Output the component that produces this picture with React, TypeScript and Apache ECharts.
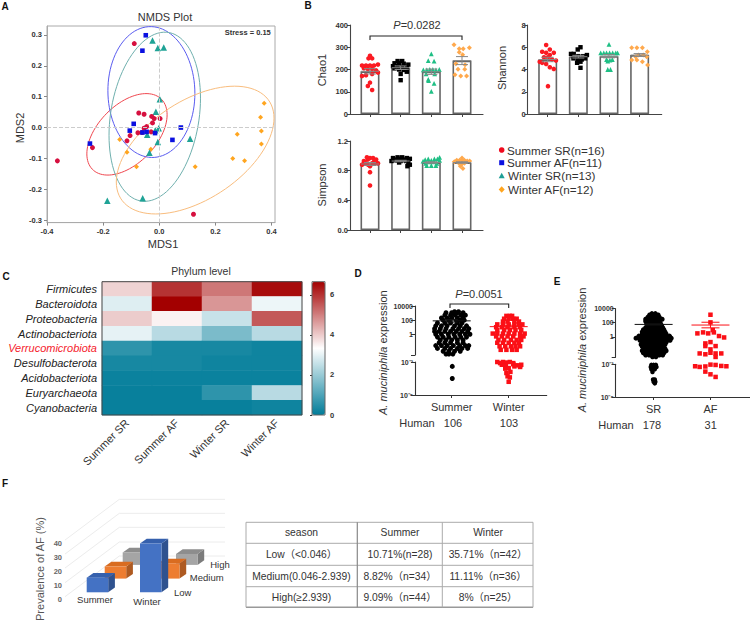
import React, { useEffect, useRef } from "react";
import * as echarts from "echarts";

const FONT = '"Liberation Sans", Arial, "Noto Sans CJK SC", sans-serif';

// ---- Panel A: NMDS points [MDS1, MDS2]
const nmdsSummerSR = [[-0.089,0.272],[-0.238,-0.065],[-0.363,-0.108],[0.122,-0.281],[-0.073,0.047],[-0.054,0.043],[-0.027,0.036],[-0.018,0.029],[0.003,0.029],[-0.024,0.015],[-0.045,0.003],[-0.054,-0.002],[-0.076,-0.017],[-0.061,-0.016],[-0.029,-0.014],[-0.104,-0.026],[-0.115,-0.043]];
const nmdsSummerAF = [[-0.048,0.299],[-0.06,0.249],[-0.247,-0.052],[-0.091,0.012],[-0.105,-0.01],[0.077,0],[0.047,-0.04],[-0.015,-0.018],[-0.06,-0.016],[-0.045,-0.014]];
const nmdsWinterSR = [[-0.024,0.282],[-0.005,0.258],[0.016,0.259],[0.002,0.092],[-0.012,0.051],[-0.002,-0.002],[-0.014,-0.009],[-0.043,-0.023],[-0.005,-0.047],[-0.035,-0.082],[0.11,-0.036],[-0.059,-0.229],[-0.185,-0.237]];
const nmdsWinterAF = [[0.374,0.079],[0.361,0.033],[0.364,-0.011],[0.364,-0.053],[0.278,-0.022],[0.262,-0.1],[0.304,-0.108],[0.128,-0.127],[-0.081,-0.127],[-0.115,-0.08],[-0.141,-0.039],[-0.03,-0.07]];
// ellipses: [centre x, centre y, half-width x, half-height y, tilt correlation]
const nmdsEllipses = [[-0.115,-0.022,0.143,0.132,0.48],[-0.028,0.115,0.155,0.212,-0.02],[-0.016,0.035,0.163,0.274,0.22],[0.128,-0.073,0.281,0.207,0.5]];
const nmdsEllipseColors = ["#f0474f","#5a5cf0","#6fb0ae","#f9bd7e"];
const nmdsTicksX = [-0.4,-0.2,0,0.2,0.4];
const nmdsTicksY = [-0.3,-0.2,-0.1,0,0.1,0.2,0.3];

// ---- Panel B: [jitter, value]
const chaoMeans = [192,208,190,240];
const chaoSems = [12,8,12,18];
const shannonMeans = [4.9,5.15,5.2,5.3];
const shannonSems = [0.2,0.12,0.15,0.13];
const simpsonMeans = [0.89,0.93,0.91,0.91];
const simpsonSems = [0.02,0.01,0.01,0.01];
const chaoRed = [[0,262],[-0.05,250],[0.07,250],[-0.26,218],[-0.13,218],[0,218],[0.13,218],[0.26,222],[-0.2,206],[-0.07,202],[0.07,202],[0.2,196],[-0.26,171],[-0.13,174],[0.07,180],[0.26,186],[0,141],[-0.07,126],[0.07,108]];
const chaoBlack = [[-0.1,238],[0.05,238],[-0.2,228],[-0.05,228],[0.1,226],[0.25,222],[-0.25,215],[-0.1,215],[0.05,212],[0.2,212],[-0.2,205],[-0.05,200],[0.1,198],[0.2,190],[0,180],[0,152]];
const chaoGreen = [[0,270],[-0.1,240],[0.09,238],[-0.26,198],[-0.15,198],[-0.05,200],[0.05,200],[0.15,198],[0.26,200],[-0.17,180],[0.11,180],[-0.1,156],[0.09,138],[-0.09,150],[0,102]];
const chaoOrange = [[-0.26,311],[-0.09,293],[0.04,293],[0.24,298],[-0.09,277],[0.02,266],[-0.2,226],[0.1,221],[-0.13,201],[0.09,201],[-0.23,176],[-0.04,171],[0.15,171]];
const shannonRed = [[-0.05,6.2],[-0.18,5.6],[0.07,5.8],[-0.05,5.5],[0.2,5.5],[0.07,5.3],[-0.12,5.1],[0.01,5.1],[0.14,4.9],[0.27,4.8],[-0.26,4.7],[-0.18,4.6],[-0.05,4.5],[0.07,4.2],[0.2,4.05],[0.01,2.5]];
const shannonBlack = [[0.07,6],[-0.02,5.8],[-0.24,5.4],[-0.15,5.4],[0.16,5.2],[0.28,5.3],[-0.16,5],[-0.02,4.9],[0.11,4.9],[0.22,5],[-0.04,4.6],[0.07,4.7],[0.07,4.15],[0,5.2]];
const shannonGreen = [[0,6.25],[-0.27,5.5],[-0.17,5.5],[-0.08,5.5],[0.02,5.5],[0.12,5.5],[0.22,5.5],[0.28,5.5],[-0.08,4.9],[0.03,4.85],[-0.04,4.75],[0.11,4.9],[-0.04,4],[0.05,4]];
const shannonOrange = [[-0.26,5.95],[-0.09,5.95],[0.09,5.95],[0.25,5.6],[-0.04,5.3],[0.12,5.3],[-0.13,5.15],[-0.26,4.85],[-0.09,4.85],[0.23,5.15],[0.09,4.7],[0.26,4.4]];
const simpsonRed = [[0,0.6],[0,0.78],[-0.26,0.88],[-0.2,0.9],[-0.13,0.9],[-0.06,0.88],[0,0.86],[0.07,0.9],[0.13,0.92],[0.2,0.91],[0.26,0.9],[-0.2,0.93],[-0.07,0.95],[0,0.97],[0.1,0.97],[0.2,0.95],[-0.1,0.98]];
const simpsonBlack = [[-0.3,0.93],[-0.2,0.95],[-0.1,0.94],[0,0.96],[0.1,0.95],[0.2,0.97],[0.3,0.96],[-0.25,0.97],[-0.1,0.98],[0.05,0.98],[0.18,0.93],[0.25,0.9],[0.22,0.86],[0.3,0.88],[0,0.93],[-0.05,0.91]];
const simpsonGreen = [[-0.27,0.93],[-0.18,0.9],[-0.09,0.92],[0,0.94],[0.09,0.92],[0.18,0.9],[0.27,0.94],[-0.2,0.95],[-0.1,0.96],[0.1,0.96],[0.2,0.96],[0.27,0.98],[-0.15,0.87],[0,0.87],[0.15,0.87]];
const simpsonOrange = [[-0.25,0.92],[-0.17,0.94],[-0.08,0.94],[0,0.94],[0.08,0.94],[0.17,0.93],[0.25,0.93],[0,0.97],[-0.1,0.9],[0,0.89],[0.08,0.9],[-0.05,0.86],[0.03,0.83]];
const legendNames = ["Summer SR(n=16)","Summer AF(n=11)","Winter SR(n=13)","Winter AF(n=12)"];

// ---- Panel C
const phyla = ["Firmicutes","Bacteroidota","Proteobacteria","Actinobacteriota","Verrucomicrobiota","Desulfobacterota","Acidobacteriota","Euryarchaeota","Cyanobacteria"];
const heatGroups = ["Summer SR","Summer AF","Winter SR","Winter AF"];
const heatValues = [
  [3.9,6.0,5.1,6.5],
  [2.9,6.66,4.7,3.1],
  [4.0,3.5,2.6,5.5],
  [3.0,2.4,1.6,2.4],
  [0.6,0.3,0.3,0.2],
  [0.3,0.3,0.2,0.2],
  [0.15,0.15,0.15,0.15],
  [0.1,0.1,0.6,2.4],
  [0.1,0.1,0.1,0.2],
];
const heatTicks = [0,2,4,6];

// ---- Panels D and E: rows of [log10 value, jitters]
const dSummerRows = [[3.2,[0.05,0.12]],[3.05,[-0.1,0,0.1,0.2]],[2.7,[-0.12,-0.02,0.06,0.16,0.24]],[2.3,[-0.18,-0.08,0,0.1,0.2]],[2.0,[-0.15,-0.05,0.08,0.15,0.22]],[1.6,[-0.25,-0.12,-0.02,0.1,0.18]],[1.2,[-0.28,-0.18,-0.08,0.05,0.15,0.26]],[0.8,[-0.3,-0.2,-0.1,0.02,0.12,0.22,0.3]],[0.4,[-0.3,-0.22,-0.12,-0.02,0.08,0.18,0.28]],[0,[-0.28,-0.18,-0.06,0.04,0.14,0.24,0.32]],[-0.4,[-0.25,-0.15,-0.05,0.06,0.16,0.26]],[-0.8,[-0.2,-0.1,0,0.1,0.2]],[-1.2,[-0.22,-0.12,-0.02,0.1,0.2]],[-1.6,[-0.28,-0.18,-0.08,0.03,0.14,0.24,0.3]],[-2.0,[-0.25,-0.12,-0.02,0.1,0.18,0.28]],[-2.4,[-0.15,-0.05,0.05,0.15]],[-2.8,[-0.1,-0.05,0.02]]];
const dSummerLow = [[0.01,-3.4],[0.01,-4.5]];
const dWinterRows = [[2.6,[-0.04,0.02,0.06]],[2.2,[-0.08,0,0.08,0.14]],[1.8,[-0.1,-0.02,0.1,0.18]],[1.4,[-0.2,-0.1,0,0.1,0.18,0.24]],[1.0,[-0.22,-0.12,-0.02,0.1,0.2]],[0.6,[-0.2,-0.08,0.02,0.12,0.22]],[0.1,[-0.28,-0.2,-0.1,0,0.1,0.2,0.28]],[-0.3,[-0.22,-0.12,-0.02,0.08,0.2,0.26]],[-0.8,[-0.18,-0.08,0.04,0.14,0.22]],[-1.2,[-0.2,-0.1,0,0.1,0.18]],[-1.7,[-0.16,-0.06,0.04,0.12,0.2]],[-2.2,[-0.14,-0.04,0.06,0.14]]];
const dWinterLow = [[-0.2,-3],[-0.15,-3.1],[-0.1,-3],[-0.05,-3.05],[0.02,-3],[0.08,-3.1],[-0.12,-3.25],[-0.05,-3.3],[0.08,-3.2],[0.14,-3.3],[0.2,-3.35],[0.22,-3.25],[-0.06,-3.6],[0,-3.55],[0.1,-3.4],[0.2,-3.45],[-0.04,-4],[0.03,-3.9],[-0.02,-4.3],[0.02,-4.4],[0,-4.8]];
const eSrRows = [[3.3,[-0.03,0.03]],[3.1,[-0.07,-0.02,0.03,0.08]],[2.8,[-0.1,-0.05,0,0.05,0.1]],[2.5,[-0.14,-0.08,-0.02,0.04,0.1,0.15]],[2.2,[-0.14,-0.08,-0.02,0.04,0.1]],[1.9,[-0.12,-0.06,0,0.06,0.12]],[1.6,[-0.1,-0.04,0.02,0.08,0.14]],[1.3,[-0.14,-0.08,-0.02,0.04,0.1,0.16]],[1.0,[-0.18,-0.12,-0.06,0,0.06,0.12,0.18]],[0.7,[-0.2,-0.14,-0.08,-0.02,0.04,0.1,0.16,0.2]],[0.4,[-0.2,-0.14,-0.08,-0.02,0.04,0.1,0.16,0.22]],[0.1,[-0.26,-0.2,-0.14,-0.08,-0.02,0.04,0.1,0.16,0.22,0.28]],[-0.2,[-0.31,-0.25,-0.18,-0.12,-0.06,0,0.06,0.12,0.18,0.24,0.31]],[-0.5,[-0.24,-0.18,-0.12,-0.06,0,0.06,0.12,0.18,0.24,0.29]],[-0.8,[-0.2,-0.14,-0.08,-0.02,0.04,0.1,0.16,0.22]],[-1.1,[-0.22,-0.16,-0.1,-0.04,0.02,0.08,0.14,0.2]],[-1.4,[-0.2,-0.14,-0.08,-0.02,0.04,0.1,0.16]],[-1.7,[-0.16,-0.1,-0.04,0.02,0.08,0.14,0.2]],[-2.0,[-0.2,-0.14,-0.08,-0.02,0.04,0.1,0.16,0.22]],[-2.3,[-0.18,-0.12,-0.06,0,0.06,0.12,0.18]],[-2.6,[-0.14,-0.08,-0.02,0.04,0.1,0.16]],[-2.85,[-0.02,0.04]]];
const eSrLow = [[-0.04,-3.05],[0,-3.05],[0.04,-3.05],[-0.05,-3.25],[0,-3.25],[0.05,-3.25],[-0.04,-3.45],[0.02,-3.45],[-0.02,-3.7],[-0.01,-4.4],[0.02,-4.4],[0,-4.6],[0.03,-4.6],[0.02,-4.75]];
const eAfUpper = [[0,3.14],[0,2.05],[-0.23,0.48],[-0.13,0.62],[-0.04,0.48],[0.04,0.95],[0.06,0.62],[0.15,0.1],[0.24,-0.1],[-0.09,-0.95],[0,-0.76],[-0.09,-1.33],[0,-1.8],[0.09,-1.33],[-0.19,-2.38],[-0.09,-2.5],[0,-2.28],[0.09,-2.38],[0.19,-2.38],[0.09,-2.88]];
const eAfLower = [[-0.27,-3.18],[-0.19,-3.24],[-0.09,-3.2],[0,-3.03],[0.09,-3.06],[0.19,-3.15],[0.28,-3.18],[-0.09,-3.67],[0,-3.92],[0.09,-4.16]];
const exprMeansD = [1.9,1.08];
const exprSemsD = [0.18,0.2];
const exprMeansE = [1.76,1.67];
const exprSemsE = [0.08,0.4];
const upperTickValues = [0,2,4];
const lowerTickValues = [-6,-3];
const upperTickNames: any = { 0: "1", 2: "100", 4: "10000" };
const lowerTickNames: any = { "-3": "10⁻³", "-6": "10⁻⁶" };

// ---- Panel F
const seasons = ["Summer","Winter"];
const prevalenceLow = [10.71,35.71];
const prevalenceMedium = [8.82,11.11];
const prevalenceHigh = [9.09,8];
const prevalenceTicks = [0,10,20,30,40];
const tableRows = [
  ["season","Summer","Winter"],
  ["Low（<0.046）","10.71%(n=28)","35.71%（n=42）"],
  ["Medium(0.046-2.939)","8.82%（n=34）","11.11%（n=36）"],
  ["High(≥2.939)","9.09%（n=44）","8%（n=25）"],
];

const RED = "#fb1a22", BLK = "#000000", GRN = "#1fbf85", ORG = "#ffa94d";
const expand = (rows: any[]) => rows.flatMap(([v, js]: any) => js.map((j: number) => [j, v]));
const shift = (g: number, pts: number[][]) => pts.map(([j, v]) => [g + j, v]);

function txt(x: number, y: number, text: string, o: any = {}) {
  const { rotation, ...st } = o;
  return {
    type: "text", x, y, rotation: rotation || 0, z: 50,
    style: { text, fontFamily: FONT, fontSize: 11, fill: "#333", align: "center", verticalAlign: "middle", ...st },
  };
}
function seg(x1: number, y1: number, x2: number, y2: number, stroke = "#333", lineWidth = 1) {
  return { type: "line", z: 1, shape: { x1, y1, x2, y2 }, style: { stroke, lineWidth } };
}
function bracket(x1: number, x2: number, y: number, drop: number) {
  return { type: "polyline", z: 40, shape: { points: [[x1, y + drop], [x1, y], [x2, y], [x2, y + drop]] }, style: { stroke: "#222", lineWidth: 1.1, fill: "none" } };
}

function scatter(ax: number, data: any[], symbol: string, color: string, size: number, extra: any = {}) {
  return { type: "scatter", xAxisIndex: ax, yAxisIndex: ax, data, symbol, symbolSize: size, itemStyle: { color, opacity: 1 }, silent: true, z: 4, ...extra };
}
function errorSeries(ax: number, means: number[], sems: number[], colors: string[], xs: number[], capW: number, meanW: number) {
  return {
    type: "custom", xAxisIndex: ax, yAxisIndex: ax, silent: true, z: 6,
    encode: { x: 0, y: 1 },
    data: means.map((m, i) => [xs[i], m, sems[i]]),
    renderItem: (p: any, api: any) => {
      const x = api.value(0), m = api.value(1), e = api.value(2);
      const c = api.coord([x, m]), t = api.coord([x, m + e]), b = api.coord([x, m - e]);
      const st = { stroke: colors[p.dataIndex], lineWidth: 1 };
      const L = (x1: number, y1: number, x2: number, y2: number) => ({ type: "line", shape: { x1, y1, x2, y2 }, style: st });
      return { type: "group", children: [
        L(c[0], t[1], c[0], b[1]), L(c[0] - capW, t[1], c[0] + capW, t[1]), L(c[0] - capW, b[1], c[0] + capW, b[1]), L(c[0] - meanW, c[1], c[0] + meanW, c[1]),
      ] };
    },
  };
}
function barSeries(ax: number, means: number[]) {
  return {
    type: "bar", xAxisIndex: ax, yAxisIndex: ax, barWidth: 19, silent: true, z: 2,
    data: means.map((m, i) => [i + 1, m]),
    itemStyle: { color: "#fff", borderColor: "#666", borderWidth: 1.6 },
  };
}
function column(ax: number, means: number[], sems: number[], groups: number[][][]) {
  const symbols = ["circle", "rect", "triangle", "diamond"];
  const colors = [RED, BLK, GRN, ORG];
  const sizes = [4.6, 4.4, 4.8, 5];
  return [
    barSeries(ax, means),
    ...groups.map((g, i) => scatter(ax, shift(i + 1, g), symbols[i], colors[i], sizes[i])),
    errorSeries(ax, means, sems, ["#888", "#888", "#888", "#888"], [1, 2, 3, 4], 6, 9),
  ];
}

function buildOption() {
  const gridB = (left: number, top: number, width: number, height: number) => ({ left, top, width, height });
  const grid: any[] = [
    { left: 47, top: 26, width: 228, height: 196.6, show: true, borderColor: "#aaa", borderWidth: 1, backgroundColor: "#fff" },
    gridB(350, 25, 133, 89),
    gridB(527.7, 25, 134, 89),
    gridB(350, 141, 133, 89),
    { left: 102, top: 281.7, width: 200, height: 133.3 },
    { left: 312, top: 281.7, width: 13, height: 133.3 },
    { left: 415, top: 306, width: 131.7, height: 49 },
    { left: 415, top: 362, width: 131.7, height: 33 },
    { left: 615.7, top: 308.7, width: 134, height: 48.6 },
    { left: 615.7, top: 364.3, width: 134, height: 32.7 },
    { left: 86.7, top: 537.5, width: 53.3, height: 54.8 },
    { left: 66, top: 543, width: 20, height: 56 },
  ];

  const axisText = { fontFamily: FONT, color: "#333" };
  const boldTick = { ...axisText, fontWeight: "bold", fontSize: 7.5 };
  const xB = (min: number, max: number) => ({
    type: "value", min, max, splitLine: { show: false },
    axisLine: { lineStyle: { color: "#444", width: 1.1 }, onZero: false },
    axisTick: { customValues: [1, 2, 3, 4], length: 3, lineStyle: { color: "#444" } },
    axisLabel: { show: false },
  });
  const yB = (max: number, ticks: number[], dec: number) => ({
    type: "value", min: 0, max, splitLine: { show: false },
    axisLine: { show: true, lineStyle: { color: "#444", width: 1.1 } },
    axisTick: { show: true, customValues: ticks, length: 3, lineStyle: { color: "#444" } },
    axisLabel: { customValues: ticks, formatter: (v: number) => v.toFixed(dec), ...boldTick, margin: 2 },
  });
  const xLog = (min: number, max: number, show: boolean, names?: string[]) => ({
    type: "value", min, max, show, splitLine: { show: false },
    axisLine: { lineStyle: { color: "#333", width: 1.1 }, onZero: false },
    axisTick: { customValues: [1, 2], length: 3, lineStyle: { color: "#333" } },
    axisLabel: { customValues: [1, 2], formatter: (v: number) => (names ? names[v - 1] : ""), fontFamily: FONT, fontSize: 11, color: "#333", margin: 6 },
  });
  const yLog = (min: number, max: number, ticks: number[], labels: number[], names: any) => ({
    type: "value", min, max, splitLine: { show: false },
    axisLine: { show: true, onZero: false, lineStyle: { color: "#333", width: 1.1 } },
    axisTick: { show: true, customValues: ticks, length: 4, lineStyle: { color: "#333" } },
    axisLabel: { customValues: labels, formatter: (v: number) => names[String(v)] ?? "", ...boldTick, fontSize: 7, margin: 2 },
  });

  const xAxis: any[] = [
    { type: "value", min: -0.4, max: 0.4125, splitLine: { show: false }, axisLine: { onZero: false, lineStyle: { color: "#aaa" } },
      axisTick: { customValues: nmdsTicksX, length: 3, lineStyle: { color: "#888" } },
      axisLabel: { customValues: nmdsTicksX, formatter: (v: number) => (v === 0 ? "0.0" : v.toFixed(1)), ...boldTick, margin: 5 } },
    xB(0.348, 4.685),
    xB(0.348, 4.72),
    xB(0.348, 4.685),
    { type: "category", data: heatGroups, position: "bottom", axisLine: { show: false }, axisTick: { show: false },
      axisLabel: { interval: 0, rotate: 45, fontFamily: FONT, fontSize: 11, color: "#333", margin: 6 } },
    { type: "value", min: 0, max: 1, show: false },
    xLog(0.356, 2.667, false),
    xLog(0.356, 2.667, true, seasons),
    xLog(0.333, 2.69, false),
    xLog(0.333, 2.69, true, ["SR", "AF"]),
    { type: "value", min: 0, max: 1, show: false },
    { type: "value", min: 0, max: 1, show: false },
  ].map((a, i) => ({ ...a, gridIndex: i }));
  const yAxis: any[] = [
    { type: "value", min: -0.308, max: 0.329, splitLine: { show: false }, axisLine: { show: true, onZero: false, lineStyle: { color: "#aaa" } },
      axisTick: { show: true, customValues: nmdsTicksY, length: 3, lineStyle: { color: "#888" } },
      axisLabel: { customValues: nmdsTicksY, formatter: (v: number) => (Math.abs(v) < 1e-9 ? "0.0" : v.toFixed(1)), ...boldTick, margin: 5 } },
    yB(400, [0, 100, 200, 300, 400], 0),
    yB(8, [0, 2, 4, 6, 8], 0),
    yB(1.2, [0, 0.4, 0.8, 1.2], 1),
    { type: "category", data: phyla, inverse: true, axisLine: { show: false }, axisTick: { show: false },
      axisLabel: { interval: 0, fontFamily: FONT, fontSize: 11, fontStyle: "italic", margin: 5,
        color: (v: string) => (v === "Verrucomicrobiota" ? "#f5222d" : "#222") } },
    { type: "value", min: 0, max: 6.66, position: "right", splitLine: { show: false }, axisLine: { show: false },
      axisTick: { show: true, customValues: heatTicks, inside: true, length: 2, lineStyle: { color: "#333" } },
      axisLabel: { customValues: heatTicks, formatter: (v: number) => String(v), ...boldTick, margin: 5 } },
    yLog(-2.93, 4, [-2.93, 0, 2, 4], upperTickValues, upperTickNames),
    yLog(-6, -3, lowerTickValues, lowerTickValues, lowerTickNames),
    yLog(-2.93, 4, [-2.93, 0, 2, 4], upperTickValues, upperTickNames),
    yLog(-6, -3, lowerTickValues, lowerTickValues, lowerTickNames),
    { type: "value", min: 0, max: 40, show: false },
    { type: "value", min: 0, max: 40, axisLine: { show: false }, axisTick: { show: false }, splitLine: { show: false },
      axisLabel: { customValues: prevalenceTicks, formatter: (v: number) => String(v), fontFamily: FONT, fontWeight: "bold", fontSize: 7.5, color: "#666", margin: 4, align: "right" } },
  ].map((a, i) => ({ ...a, gridIndex: i }));

  const heatmapData: number[][] = [];
  heatValues.forEach((row, y) => row.forEach((v, x) => heatmapData.push([x, y, v])));

  const depthColors = [
    ["#4472c4", "#3560ad", "#2f528f"],
    ["#ed7d31", "#d96c20", "#ae5a21"],
    ["#a5a5a5", "#8d8d8d", "#7c7c7c"],
  ];
  const bars3d: number[][] = [];
  [prevalenceHigh, prevalenceMedium, prevalenceLow].forEach((vals, k) =>
    vals.forEach((v, col) => bars3d.push([col, v, 2 - k]))
  );

  const series: any[] = [
    // A
    { type: "custom", xAxisIndex: 0, yAxisIndex: 0, silent: true, z: 3, encode: { x: 0, y: 1 }, data: nmdsEllipses,
      renderItem: (p: any, api: any) => {
        const cx = api.value(0), cy = api.value(1), rx = api.value(2), ry = api.value(3), d = Math.acos(api.value(4));
        const pts: number[][] = [];
        for (let i = 0; i <= 96; i++) {
          const t = (i / 96) * Math.PI * 2;
          pts.push(api.coord([cx + rx * Math.cos(t), cy + ry * Math.cos(t + d)]));
        }
        return { type: "polyline", shape: { points: pts }, style: { stroke: nmdsEllipseColors[p.dataIndex], lineWidth: 1, fill: "none" } };
      } },
    scatter(0, nmdsWinterAF, "diamond", "#ffa51f", 5, {
      markLine: { silent: true, symbol: "none", label: { show: false }, animation: false, lineStyle: { type: "dashed", color: "#ccc", width: 1 }, data: [{ xAxis: 0 }, { yAxis: 0 }] },
    }),
    scatter(0, nmdsWinterSR, "triangle", "#1fa396", 6.5),
    scatter(0, nmdsSummerSR, "circle", "#d6103f", 5),
    scatter(0, nmdsSummerAF, "rect", "#0a10e0", 4.6),
    // B
    ...column(1, chaoMeans, chaoSems, [chaoRed, chaoBlack, chaoGreen, chaoOrange]),
    ...column(2, shannonMeans, shannonSems, [shannonRed, shannonBlack, shannonGreen, shannonOrange]),
    ...column(3, simpsonMeans, simpsonSems, [simpsonRed, simpsonBlack, simpsonGreen, simpsonOrange]),
    // C
    { type: "heatmap", xAxisIndex: 4, yAxisIndex: 4, data: heatmapData, silent: true, itemStyle: { borderWidth: 0 } },
    // D
    scatter(6, [...shift(1, expand(dSummerRows))], "circle", "#000", 5),
    scatter(7, shift(1, dSummerLow), "circle", "#000", 5),
    scatter(6, shift(2, expand(dWinterRows)), "rect", "#fb0f16", 4.5),
    scatter(7, shift(2, dWinterLow), "rect", "#fb0f16", 4.5),
    errorSeries(6, exprMeansD, exprSemsD, ["#111", "#fb0f16"], [1, 2], 6, 19),
    // E
    scatter(8, shift(1, expand(eSrRows)), "circle", "#000", 5),
    scatter(9, shift(1, eSrLow), "circle", "#000", 4.5),
    scatter(8, shift(2, eAfUpper), "rect", "#fb0f16", 4.5),
    scatter(9, shift(2, eAfLower), "rect", "#fb0f16", 4.5),
    errorSeries(8, exprMeansE, exprSemsE, ["#111", "#fb0f16"], [1, 2], 9, 19),
    // F
    { type: "custom", xAxisIndex: 10, yAxisIndex: 10, silent: true, z: 3, encode: { x: 0, y: 1 }, data: bars3d,
      renderItem: (_p: any, api: any) => {
        const col = api.value(0), v = api.value(1), k = api.value(2);
        const b = api.coord([col, 0]), t = api.coord([col, v]);
        const x0 = b[0] + 18 * k, yb = b[1] - 13.7 * k, yt = t[1] - 13.7 * k, w = 21.5, dx = 6.7, dy = -4.7;
        const [front, top, side] = depthColors[k];
        const P = (points: number[][], fill: string) => ({ type: "polygon", shape: { points }, style: { fill } });
        return { type: "group", children: [
          P([[x0 + w, yt], [x0 + w + dx, yt + dy], [x0 + w + dx, yb + dy], [x0 + w, yb]], side),
          P([[x0, yt], [x0 + dx, yt + dy], [x0 + w + dx, yt + dy], [x0 + w, yt]], top),
          P([[x0, yt], [x0 + w, yt], [x0 + w, yb], [x0, yb]], front),
        ] };
      } },
    { type: "scatter", xAxisIndex: 11, yAxisIndex: 11, data: [], silent: true },
  ];

  // graphic: texts, legend, brackets, table, 3-D wall
  const g: any[] = [];
  const label = { fontWeight: "bold", fontSize: 10, fill: "#111" };
  g.push(txt(5, 6, "A", label), txt(308, 5, "B", label), txt(6, 276, "C", label), txt(358, 273, "D", label), txt(557, 281, "E", label), txt(5, 483, "F", label));

  g.push(txt(165, 17, "NMDS Plot", { fontSize: 11 }));
  g.push(txt(163, 244, "MDS1", { fontSize: 11 }));
  g.push(txt(20, 128, "MDS2", { fontSize: 11, rotation: Math.PI / 2 }));
  g.push(txt(247.7, 32, "Stress = 0.15", { fontSize: 7.5, fontWeight: "bold" }));

  g.push(txt(322, 70, "Chao1", { fontSize: 11, rotation: Math.PI / 2 }));
  g.push(txt(501.7, 68, "Shannon", { fontSize: 11, rotation: Math.PI / 2 }));
  g.push(txt(322, 185, "Simpson", { fontSize: 11, rotation: Math.PI / 2 }));
  g.push(txt(417, 25, "{i|P}=0.0282", { fontSize: 11, rich: { i: { fontStyle: "italic", fontSize: 11, fontFamily: FONT, fill: "#333" } } }));
  g.push(bracket(370, 462, 36, 4));

  const legYs = [150, 162.7, 175.7, 189.5];
  const legX = 501.7;
  legendNames.forEach((n, i) => g.push(txt(507 + (i === 2 || i === 3 ? 1 : 0), legYs[i], n, { align: "left", fontSize: 11.7 })));
  g.push({ type: "circle", z: 50, shape: { cx: legX, cy: legYs[0], r: 2.8 }, style: { fill: "#f00a1e" } });
  g.push({ type: "rect", z: 50, shape: { x: legX - 2.5, y: legYs[1] - 2.5, width: 5, height: 5 }, style: { fill: "#0a10e0" } });
  g.push({ type: "polygon", z: 50, shape: { points: [[legX, legYs[2] - 3], [legX + 3, legYs[2] + 2.5], [legX - 3, legYs[2] + 2.5]] }, style: { fill: "#1f9f96" } });
  g.push({ type: "polygon", z: 50, shape: { points: [[legX, legYs[3] - 3.2], [legX + 3, legYs[3]], [legX, legYs[3] + 3.2], [legX - 3, legYs[3]]] }, style: { fill: "#ffa51f" } });

  g.push(txt(201, 271, "Phylum level", { fontSize: 10.5 }));
  g.push({ type: "rect", z: 45, shape: { x: 102, y: 281.7, width: 200, height: 133.3 }, style: { fill: "none", stroke: "#444", lineWidth: 1 } });
  g.push({ type: "rect", z: 45, shape: { x: 312, y: 281.7, width: 13, height: 133.3 }, style: { fill: "none", stroke: "#666", lineWidth: 1 } });

  const mucText = (x: number, y: number) => txt(x, y, "{i|A. muciniphila} expression", {
    fontSize: 11, rotation: Math.PI / 2,
    rich: { i: { fontStyle: "italic", fontSize: 11, fontFamily: FONT, fill: "#333" } },
  });
  g.push(mucText(382.7, 352.7), mucText(581.7, 350));
  g.push(txt(479, 294, "{i|P}=0.0051", { fontSize: 11, rich: { i: { fontStyle: "italic", fontSize: 11, fontFamily: FONT, fill: "#333" } } }));
  g.push(bracket(450, 508.7, 304, 4));
  g.push(txt(417, 422.7, "Human"), txt(453, 422.7, "106"), txt(509, 422.7, "103"));
  g.push(txt(616, 425, "Human"), txt(652, 425, "178"), txt(710.7, 425, "31"));

  // F wall
  [103, 145, 187, 231, 273].forEach((z) => {
    const y = 465 + z / 3;
    g.push(seg(119.3, y, 225, y, "#ececec"), seg(119.3, y, 65, y + 40.7, "#ececec"));
  });
  g.push(txt(40, 569, "Prevalence of AF (%)", { fontSize: 11, rotation: Math.PI / 2, fill: "#555" }));
  g.push(txt(95, 599.7, "Summer", { fontSize: 9.5 }), txt(147, 601.7, "Winter", { fontSize: 9.5 }));
  g.push(txt(182.7, 592, "Low", { fontSize: 9.5 }), txt(206.7, 577, "Medium", { fontSize: 9.5 }), txt(220, 564.7, "High", { fontSize: 9.5 }));

  // Table
  const colX = [246, 357.3, 442.3, 533];
  const rowY = [522.3, 543.3, 565.3, 586.7, 607.3];
  rowY.forEach((y, i) => g.push(seg(colX[0], y, colX[3], y, i === 4 ? "#999" : "#aaa", i === 4 ? 1.4 : 1)));
  colX.forEach((x, i) => g.push(seg(x, rowY[0], x, rowY[4], i === 1 ? "#888" : "#aaa", i === 1 ? 1.2 : 1)));
  const colC = [301.5, 400, 488];
  tableRows.forEach((row, r) => row.forEach((c, k) => {
    g.push(txt(colC[k], (rowY[r] + rowY[r + 1]) / 2, c, { fontSize: 10.3, fill: "#333" }));
  }));

  return {
    animation: false,
    backgroundColor: "#fff",
    textStyle: { fontFamily: FONT },
    grid, xAxis, yAxis, series,
    visualMap: [{
      type: "continuous", min: 0, max: 6.66, left: 312, top: 281.7, itemWidth: 13, itemHeight: 133.3, padding: 0,
      calculable: false, seriesIndex: series.findIndex((s) => s.type === "heatmap"), hoverLink: false,
      inRange: { color: ["#007c99", "#ffffff", "#a30000"] }, textStyle: { fontSize: 1 },
    }],
    graphic: { elements: g },
  };
}

export default function App() {
  const ref = useRef<HTMLDivElement>(null);
  useEffect(() => {
    document.body.style.margin = "0";
    const chart = echarts.init(ref.current!, undefined, { renderer: "svg" });
    chart.setOption(buildOption() as any);
    return () => chart.dispose();
  }, []);
  return <div ref={ref} style={{ width: 750, height: 622, background: "#fff" }} />;
}
